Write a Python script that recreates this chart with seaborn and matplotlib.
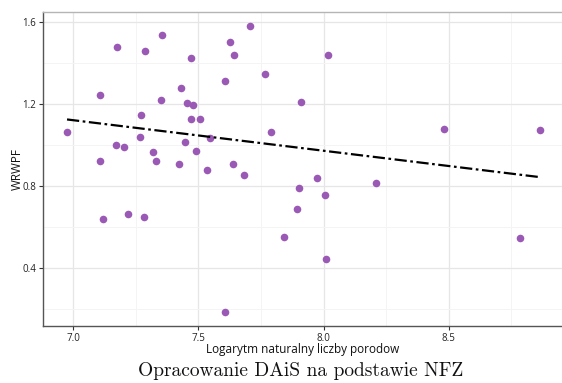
import numpy as np
import pandas as pd
import seaborn as sns
import matplotlib.pyplot as plt
from matplotlib.ticker import MultipleLocator

# log of births per hospital vs WRWPF
ln_births = [7.355, 7.176, 7.286, 7.108, 7.351, 7.272, 6.975, 7.268, 7.169, 7.201,
             7.318, 7.105, 7.330, 7.117, 7.218, 7.284, 7.706, 7.627, 7.643, 7.471,
             7.767, 7.606, 7.431, 7.455, 7.477, 7.908, 7.469, 7.507, 7.790, 7.546,
             7.446, 7.489, 7.421, 7.639, 7.533, 7.682, 7.900, 7.893, 7.843, 7.606,
             8.018, 7.974, 8.005, 8.208, 8.008, 8.482, 8.864, 8.784]
wrwpf = [1.535, 1.478, 1.459, 1.245, 1.219, 1.146, 1.066, 1.041, 1.002, 0.990,
         0.965, 0.923, 0.923, 0.642, 0.666, 0.652, 1.581, 1.503, 1.441, 1.426,
         1.348, 1.311, 1.279, 1.204, 1.196, 1.212, 1.129, 1.128, 1.066, 1.035,
         1.016, 0.970, 0.908, 0.907, 0.879, 0.853, 0.790, 0.691, 0.553, 0.189,
         1.438, 0.842, 0.757, 0.814, 0.444, 1.077, 1.074, 0.549]

df = pd.DataFrame({'x': ln_births, 'y': wrwpf})

sns.set_theme(style='whitegrid')
plt.rcParams['font.family'] = ['Open Sans', 'DejaVu Sans']

fig = plt.figure(figsize=(5.62, 3.83), dpi=100)
ax = fig.add_axes([0.0765, 0.1488, 0.9235, 0.82])

sns.regplot(data=df, x='x', y='y', ax=ax, ci=None,
            scatter_kws={'s': 30, 'color': '#9b59b6', 'alpha': 1, 'linewidths': 0, 'zorder': 3},
            line_kws={'color': 'black', 'lw': 1.6, 'linestyle': (0, (5.5, 1.6, 1.2, 1.6)), 'zorder': 4})

ax.set_xlim(6.879, 8.952)
ax.set_ylim(0.119, 1.649)
ax.xaxis.set_minor_locator(MultipleLocator(0.25))
ax.yaxis.set_minor_locator(MultipleLocator(0.2))
ax.set_xticks([7.0, 7.5, 8.0, 8.5])
ax.set_xticklabels(['7.0', '7.5', '8.0', '8.5'])
ax.set_yticks([0.4, 0.8, 1.2, 1.6])
ax.set_yticklabels(['0.4', '0.8', '1.2', '1.6'])

ax.grid(which='major', color='#e6e6e6', lw=0.9)
ax.grid(which='minor', color='#f4f4f4', lw=0.7)
ax.set_axisbelow(True)

for side in ['left', 'bottom']:
    ax.spines[side].set_color('#555555')
    ax.spines[side].set_linewidth(1.0)
ax.spines['top'].set_color('#b5b5b5')
ax.spines['top'].set_linewidth(1.0)
ax.spines['right'].set_visible(False)

ax.tick_params(axis='both', which='major', length=3, width=0.8, color='#333333',
               labelsize=7, labelcolor='#222222', pad=2, bottom=True, left=True)
ax.tick_params(which='minor', length=0)

ax.set_xlabel('Logarytm naturalny liczby porodow', fontsize=8.5, color='#111111', labelpad=-1)
ax.set_ylabel('WRWPF', fontsize=8.5, color='#111111', labelpad=-1)

fig.text(0.535, 0.017, 'Opracowanie DAiS na podstawie NFZ', ha='center', va='baseline',
         fontsize=14, family='cmr10', color='#111111')

fig.savefig('out.png', dpi=100)
